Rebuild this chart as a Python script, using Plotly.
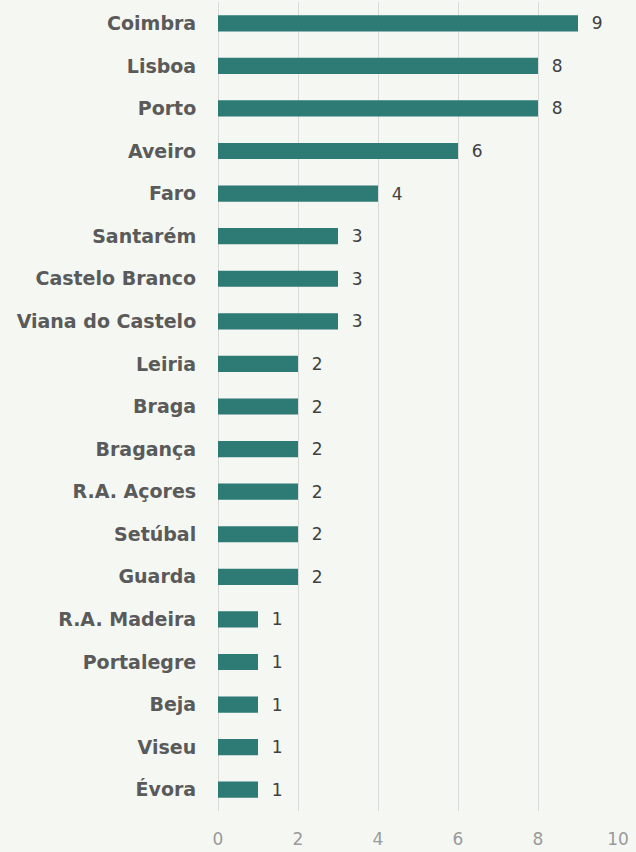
import plotly.graph_objects as go

categories = ["Coimbra", "Lisboa", "Porto", "Aveiro", "Faro", "Santarém", "Castelo Branco",
              "Viana do Castelo", "Leiria", "Braga", "Bragança", "R.A. Açores", "Setúbal",
              "Guarda", "R.A. Madeira", "Portalegre", "Beja", "Viseu", "Évora"]
values = [9, 8, 8, 6, 4, 3, 3, 3, 2, 2, 2, 2, 2, 2, 1, 1, 1, 1, 1]
x_ticks = [0, 2, 4, 6, 8, 10]

bg = "#f4f7f2"
fig = go.Figure(go.Bar(
    x=values, y=categories, orientation="h",
    marker=dict(color="#2e7b76", line=dict(width=0)),
    width=0.38,
    text=["  " + str(v) for v in values],
    textposition="outside",
    constraintext="none",
    textfont=dict(family="DejaVu Sans", size=17, color="#404040"),
    cliponaxis=False,
))
fig.update_layout(
    width=636, height=852,
    paper_bgcolor=bg, plot_bgcolor=bg,
    margin=dict(l=218, r=18, t=2, b=41),
    showlegend=False,
    xaxis=dict(range=[0, 10], tickvals=x_ticks, showgrid=True, gridcolor="#d9d9d9", gridwidth=1,
               zeroline=True, zerolinecolor="#d9d9d9", zerolinewidth=1, automargin=False,
               tickfont=dict(family="DejaVu Sans", size=17, color="#9a9a9a"),
               ticks="outside", ticklen=13, tickcolor="rgba(0,0,0,0)", showline=False),
    yaxis=dict(autorange=False, categoryorder="array", categoryarray=categories, automargin=False,
               tickfont=dict(family="DejaVu Sans", size=19, color="#5a5a5a", weight="bold"),
               ticks="outside", ticklen=17, tickcolor="rgba(0,0,0,0)", showgrid=False,
               range=[18.5, -0.5]),
)
fig.write_html("out.html", config={"displayModeBar": False},
               post_script="document.body.style.margin='0';document.body.style.padding='0';document.body.style.overflow='hidden';")
